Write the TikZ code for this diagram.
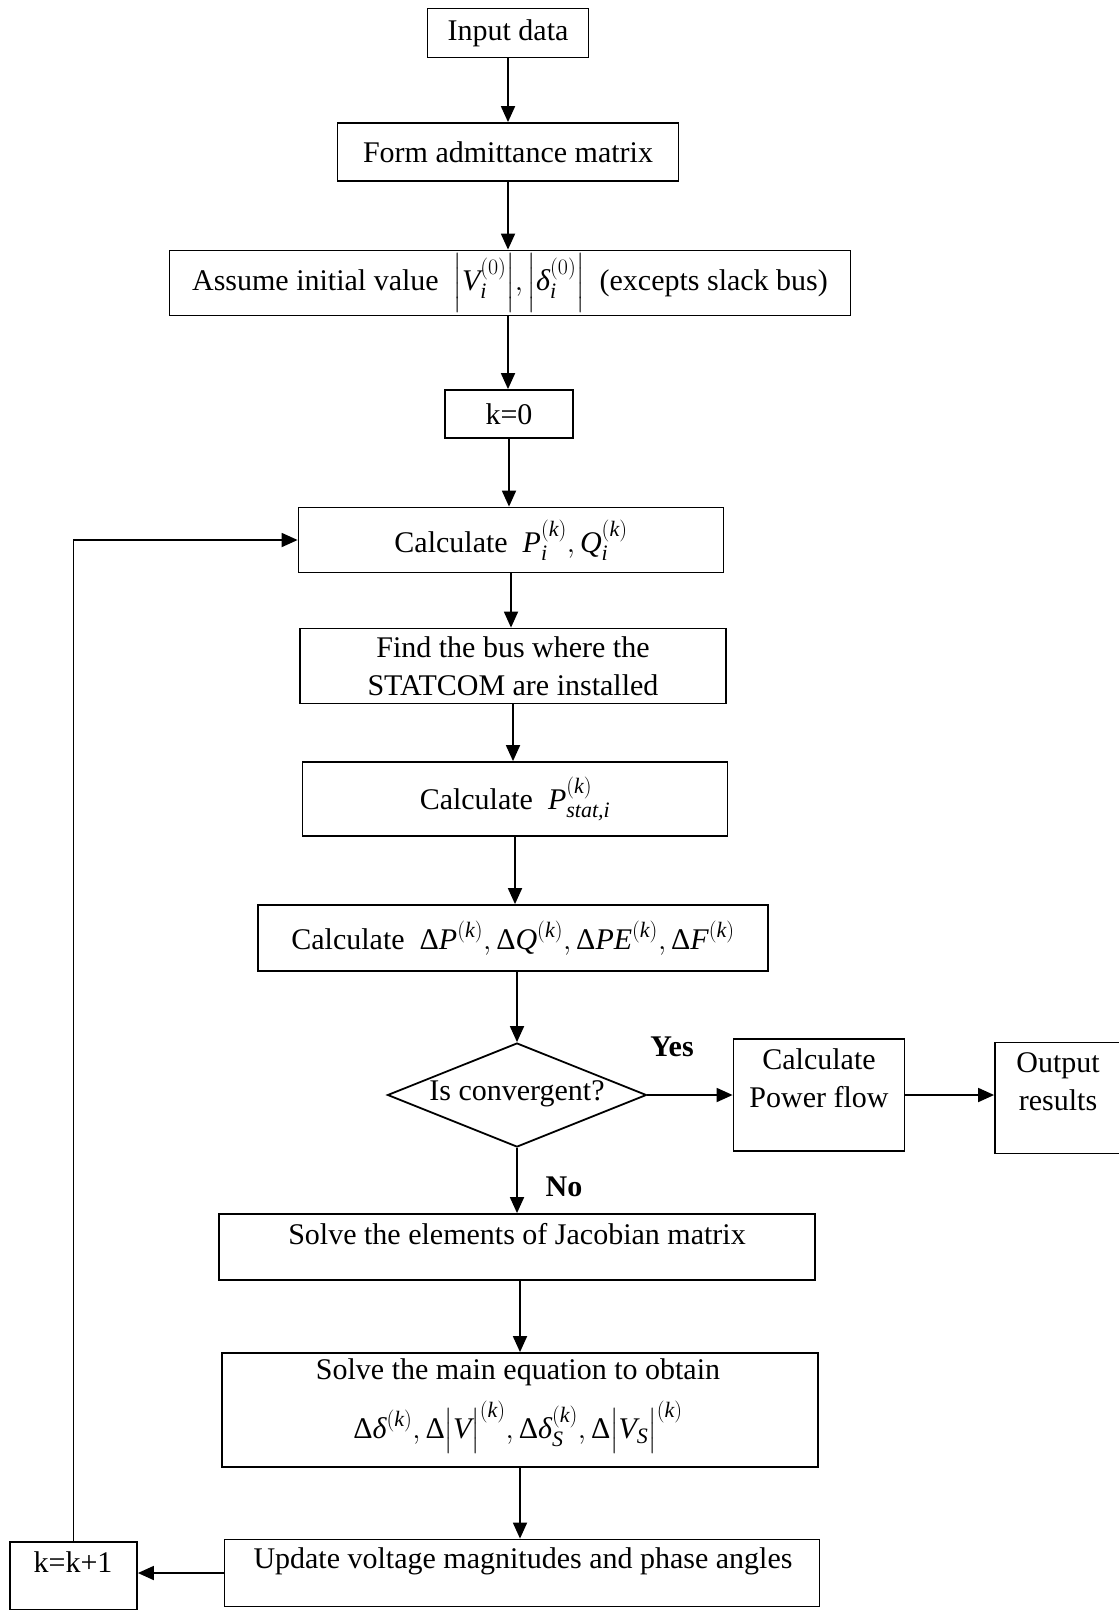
\RequirePackage{fix-cm}
\documentclass[tikz,border=0pt]{standalone}
\usepackage{amsmath}
\usepackage{fontspec}
\setmainfont{Liberation Serif}
\usetikzlibrary{arrows.meta,shapes.geometric}
\DeclareMathSizes{30}{30}{22}{16}
\newcommand\mi[1]{\text{\itshape #1}}
\newcommand\fs{\fontsize{30}{38}\selectfont}
\begin{document}
\begin{tikzpicture}[x=1pt,y=-1pt,
 box/.style={draw, line width=1.8pt, inner sep=0pt, font=\fs, align=center},
 txt/.style={inner sep=0pt, font=\fs, align=center},
 arr/.style={line width=1.8pt, -{Triangle[length=16pt,width=14pt]}},
 lab/.style={inner sep=0pt, font=\fs\bfseries}]
\useasboundingbox (0,0) rectangle (1119,1610);
\fill[white] (0,0) rectangle (1119,1610);

\node[box, minimum width=161pt, minimum height=49pt] (in) at (508,33) {Input data};
\node[box, minimum width=341pt, minimum height=58pt] (fa) at (508,152) {Form admittance matrix};
\node[box, minimum width=681pt, minimum height=65pt] (as) at (510,283) {};
\node[txt] (ast) at (510,283)
  {Assume initial value \ $\Big|\mi{V}_{\mi{i}}^{(0)}\Big|,\Big|\mi{δ}_{\mi{i}}^{(0)}\Big|$ \ (excepts slack bus)};
\node[box, minimum width=128pt, minimum height=48pt] (k0) at (509,414) {k=0};
\node[box, minimum width=425pt, minimum height=65pt] (cpq) at (511,540)
  {Calculate \ $\mi{P}_{\mi{i}}^{(\mi{k})},\mi{Q}_{\mi{i}}^{(\mi{k})}$};
\node[box, minimum width=426pt, minimum height=75pt] (fb) at (513,666)
  {Find the bus where the\\STATCOM are installed};
\node[box, minimum width=425pt, minimum height=74pt] (ps) at (515,799)
  {Calculate \ $\mi{P}_{\mi{stat,i}}^{(\mi{k})}$};
\node[box, minimum width=510pt, minimum height=66pt] (dp) at (513,938)
  {Calculate \ $\text{Δ}\mi{P}^{(\mi{k})},\text{Δ}\mi{Q}^{(\mi{k})},\text{Δ}\mi{PE}^{(\mi{k})},\text{Δ}\mi{F}^{(\mi{k})}$};

\node[draw, diamond, line width=1.8pt, minimum width=259pt, minimum height=104pt, inner sep=0pt] (cv) at (517,1095) {};
\node[txt] (cvt) at (517,1094) {Is convergent?};

\node[box, minimum width=171pt, minimum height=112pt] (pf) at (819,1095) {};
\node[txt] (pft) at (819,1078) {Calculate\\Power flow};
\node[box, minimum width=130pt, minimum height=111pt] (out) at (1060,1098) {};
\node[txt] (outt) at (1058,1082) {Output\\results};

\node[lab] (yes) at (672,1047) {Yes};
\node[lab] (no) at (564,1187) {No};

\node[box, minimum width=596pt, minimum height=66pt] (jac) at (517,1247) {};
\node[txt] (jact) at (517,1234) {Solve the elements of Jacobian matrix};

\node[box, minimum width=596pt, minimum height=114pt] (me) at (520,1410) {};
\node[txt] (me1) at (518,1372) {Solve the main equation to obtain};
\node[txt] (me2) at (518,1427)
  {$\text{Δ}\mi{δ}^{(\mi{k})},\text{Δ}\big|\mi{V}\big|^{(\mi{k})},\text{Δ}\mi{δ}_{\mi{S}}^{(\mi{k})},\text{Δ}\big|\mi{V}_{\mi{S}}\big|^{(\mi{k})}$};

\node[box, minimum width=595pt, minimum height=67pt] (up) at (522,1573) {};
\node[txt] (upt) at (523,1561) {Update voltage magnitudes and phase angles};

\node[box, minimum width=127pt, minimum height=68pt] (kk) at (73.5,1576) {};
\node[txt] (kkt) at (73,1562) {k=k+1};

\draw[arr] (in.south) -- (in.south |- fa.north);
\draw[arr] (fa.south) -- (fa.south |- as.north);
\draw[arr] (as.south -| fa.south) -- (fa.south |- k0.north);
\draw[arr] (k0.south) -- (k0.south |- cpq.north);
\draw[arr] (cpq.south) -- (cpq.south |- fb.north);
\draw[arr] (fb.south) -- (fb.south |- ps.north);
\draw[arr] (ps.south) -- (ps.south |- dp.north);
\draw[arr] (cv.north |- dp.south) -- (cv.north);
\draw[arr] (cv.south) -- (cv.south |- jac.north);
\draw[arr] (me.north |- jac.south) -- (me.north);
\draw[arr] (me.south) -- (me.south |- up.north);
\draw[arr] (up.west) -- (up.west -| kk.east);
\draw[arr] (kk.north) |- (cpq.west);
\draw[arr] (cv.east) -- (cv.east -| pf.west);
\draw[arr] (pf.east) -- (pf.east -| out.west);
\end{tikzpicture}
\end{document}
